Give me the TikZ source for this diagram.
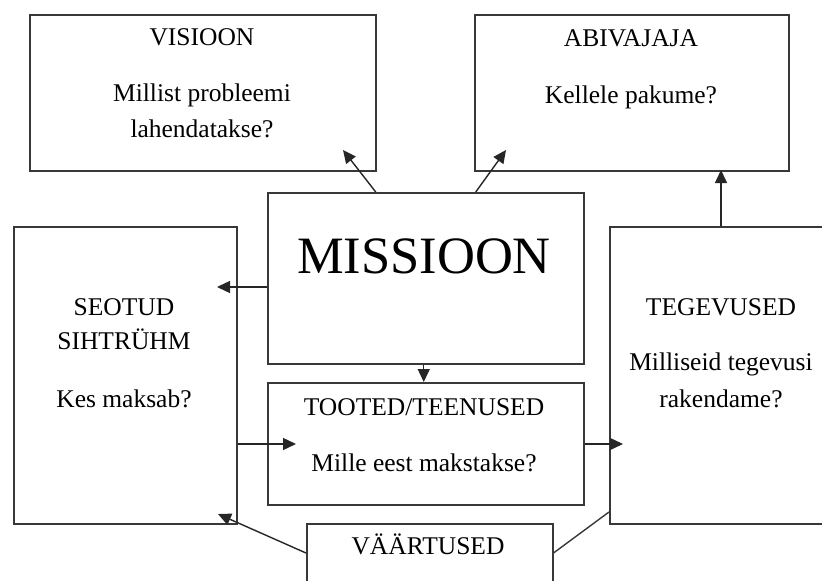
\documentclass[tikz,border=0pt]{standalone}
\usepackage{fontspec}
\setmainfont{Liberation Serif}
\usetikzlibrary{arrows.meta}
\tikzset{
  boxst/.style={draw=black!78, line width=1.5pt, rectangle, inner sep=0pt, anchor=north west},
  txt/.style={anchor=base, inner sep=0pt, font=\fontsize{25.5}{30}\selectfont},
  big/.style={anchor=base, inner sep=0pt, font=\fontsize{52.5}{60}\selectfont},
  arr/.style={draw=black!85, line width=1.4pt, -{Triangle[length=13pt,width=12pt]}},
  ln/.style={draw=black!78, line width=1.4pt}
}
\begin{document}
\begin{tikzpicture}[x=1pt,y=-1pt]
\useasboundingbox (0,0) rectangle (822,581);
\clip (0,0) rectangle (822,581);
% boxes
\node[boxst, minimum width=346pt, minimum height=156pt] (vis) at (29,14) {};
\node[boxst, minimum width=314pt, minimum height=156pt] (abi) at (474,14) {};
\node[boxst, minimum width=316pt, minimum height=171pt] (mis) at (267,192) {};
\node[boxst, minimum width=223pt, minimum height=297pt] (seo) at (13,226) {};
\node[boxst, minimum width=226pt, minimum height=297pt] (teg) at (609,226) {};
\node[boxst, minimum width=316pt, minimum height=122pt] (too) at (267,382) {};
\node[boxst, minimum width=246pt, minimum height=90pt] (vaa) at (306,523) {};
% texts
\node[txt] (t1) at (202,45) {VISIOON};
\node[txt] (t2) at (202,101) {Millist probleemi};
\node[txt] (t3) at (202,137) {lahendatakse?};
\node[txt] (t4) at (631,46) {ABIVAJAJA};
\node[txt] (t5) at (631,103) {Kellele pakume?};
\node[big] (t6) at (424,273) {MISSIOON};
\node[txt] (t7) at (124,315) {SEOTUD};
\node[txt] (t8) at (124,349) {SIHTRÜHM};
\node[txt] (t9) at (124,407) {Kes maksab?};
\node[txt] (t10) at (721,315) {TEGEVUSED};
\node[txt] (t11) at (721,370) {Milliseid tegevusi};
\node[txt] (t12) at (721,407) {rakendame?};
\node[txt] (t13) at (424,415) {TOOTED/TEENUSED};
\node[txt] (t14) at (424,471) {Mille eest makstakse?};
\node[txt] (t15) at (428,554) {VÄÄRTUSED};
% arrow end points
\coordinate (pVis) at (343,150);
\coordinate (pAbi) at (506,150);
\coordinate (pSeo) at (217,287);
\coordinate (pToo) at (296,444);
\coordinate (pTeg) at (623,444);
\coordinate (pSeo2) at (218,514);
\coordinate (pTeg2) at (609,512);
\coordinate (pAbi2) at (721,170);
% connectors
\draw[arr] ([xshift=-50pt]mis.north) -- (pVis);
\draw[arr] ([xshift=50pt]mis.north) -- (pAbi);
\draw[arr] (mis.west |- pSeo) -- (pSeo);
\draw[arr] ([xshift=-2pt]mis.south) -- ([xshift=-2pt]too.north);
\draw[arr] (seo.east |- pToo) -- (pToo);
\draw[arr] (too.east |- pTeg) -- (pTeg);
\draw[arr] (teg.north -| pAbi2) -- (pAbi2);
\draw[arr] ([yshift=-30pt]vaa.north west) -- (pSeo2);
\draw[ln] ([yshift=-30pt]vaa.north east) -- (pTeg2);
\end{tikzpicture}
\end{document}
